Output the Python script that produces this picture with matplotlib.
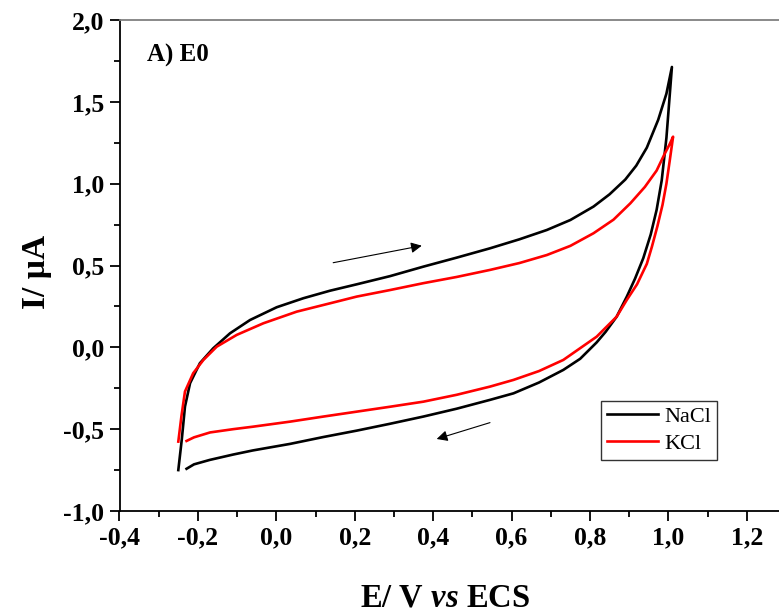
import matplotlib
matplotlib.use("Agg")
import matplotlib.pyplot as plt
from matplotlib.ticker import MultipleLocator, FuncFormatter

plt.rcParams['font.family'] = ['Liberation Serif', 'DejaVu Serif']
plt.rcParams['mathtext.fontset'] = 'custom'
plt.rcParams['mathtext.rm'] = 'Liberation Serif'
plt.rcParams['mathtext.it'] = 'Liberation Serif:italic:bold'
plt.rcParams['mathtext.bf'] = 'Liberation Serif:bold'

# Cyclic voltammograms (potential in V vs ECS, current in µA)
nacl_E = [-0.250, -0.241, -0.233, -0.220, -0.195, -0.161, -0.118, -0.067, 0.001, 0.069,
          0.137, 0.205, 0.290, 0.375, 0.460, 0.545, 0.620, 0.690, 0.750, 0.809,
          0.850, 0.890, 0.918, 0.945, 0.974, 0.995, 1.009,
          0.995, 0.983, 0.970, 0.955, 0.936, 0.915, 0.894, 0.868, 0.840, 0.817,
          0.775, 0.732, 0.670, 0.605, 0.545, 0.460, 0.375, 0.290, 0.205, 0.120,
          0.035, -0.060, -0.110, -0.170, -0.210, -0.229]
nacl_I = [-0.750, -0.560, -0.362, -0.219, -0.097, -0.006, 0.086, 0.167, 0.245, 0.300,
          0.346, 0.385, 0.435, 0.493, 0.548, 0.605, 0.660, 0.717, 0.778, 0.860,
          0.935, 1.025, 1.110, 1.220, 1.390, 1.550, 1.713,
          1.280, 1.020, 0.840, 0.690, 0.545, 0.420, 0.310, 0.187, 0.095, 0.030,
          -0.070, -0.138, -0.215, -0.281, -0.321, -0.375, -0.423, -0.467, -0.509, -0.548,
          -0.590, -0.630, -0.655, -0.688, -0.715, -0.742]

kcl_E = [-0.250, -0.242, -0.233, -0.212, -0.186, -0.152, -0.101, -0.033, 0.052, 0.137,
         0.205, 0.290, 0.375, 0.460, 0.545, 0.620, 0.690, 0.750, 0.809, 0.860,
         0.903, 0.940, 0.970, 0.990, 1.003, 1.012,
         1.004, 0.995, 0.985, 0.972, 0.958, 0.945, 0.920, 0.894, 0.868, 0.817,
         0.732, 0.670, 0.605, 0.545, 0.460, 0.375, 0.290, 0.205, 0.120, 0.035,
         -0.060, -0.110, -0.169, -0.210, -0.229]
kcl_I = [-0.576, -0.420, -0.270, -0.158, -0.077, 0.004, 0.076, 0.147, 0.218, 0.269,
         0.310, 0.350, 0.392, 0.430, 0.473, 0.515, 0.564, 0.620, 0.697, 0.780,
         0.880, 0.980, 1.080, 1.180, 1.240, 1.287,
         1.150, 1.000, 0.870, 0.740, 0.615, 0.510, 0.385, 0.290, 0.187, 0.065,
         -0.077, -0.145, -0.199, -0.240, -0.290, -0.332, -0.363, -0.393, -0.423, -0.454,
         -0.485, -0.500, -0.520, -0.550, -0.572]

series_labels = ['NaCl', 'KCl']
series_colors = ['black', 'red']

fig = plt.figure(figsize=(7.79, 6.15), dpi=100)
W, H = 779, 615
left_px, right_px, top_px, bottom_px = 119.5, 786, 20, 511
ax = fig.add_axes([left_px / W, 1 - bottom_px / H,
                   (right_px - left_px) / W, (bottom_px - top_px) / H])

ax.plot(nacl_E, nacl_I, color=series_colors[0], lw=1.9, label=series_labels[0],
        solid_joinstyle='round')
ax.plot(kcl_E, kcl_I, color=series_colors[1], lw=1.9, label=series_labels[1],
        solid_joinstyle='round')

ax.set_xlim(-0.4, 1.3)
ax.set_ylim(-1.0, 2.0)

ax.xaxis.set_major_locator(MultipleLocator(0.2))
ax.xaxis.set_minor_locator(MultipleLocator(0.1))
ax.yaxis.set_major_locator(MultipleLocator(0.5))
ax.yaxis.set_minor_locator(MultipleLocator(0.25))

comma = FuncFormatter(lambda v, p: f"{v:.1f}".replace('.', ',').replace('-0,0', '0,0'))
ax.xaxis.set_major_formatter(comma)
ax.yaxis.set_major_formatter(comma)

ax.tick_params(which='major', direction='out', length=7, width=1.3, pad=4,
               labelsize=18.5)
ax.tick_params(which='minor', direction='out', length=4, width=1.3)
for lbl in ax.get_xticklabels() + ax.get_yticklabels():
    lbl.set_fontweight('bold')

for s in ('left', 'bottom'):
    ax.spines[s].set_linewidth(1.3)
    ax.spines[s].set_color('black')
ax.spines['top'].set_color('#808080')
ax.spines['top'].set_linewidth(1.3)
ax.spines['right'].set_visible(False)

ax.set_xlabel(r'E/ V $\mathit{vs}$ ECS', fontsize=23.5, fontweight='bold', labelpad=24)
ax.set_ylabel('I/ µA', fontsize=24, fontweight='bold', labelpad=8)
ax.xaxis.label.set_x(0.488)
ax.yaxis.label.set_y(0.487)

ax.text(-0.33, 1.743, 'A) E0', fontsize=18, fontweight='bold', va='baseline')

# sweep direction arrows
arrow = dict(arrowstyle='-|>', lw=0.8, color='black', mutation_scale=16,
             shrinkA=0, shrinkB=0)
ax.annotate('', xy=(0.371, 0.621), xytext=(0.145, 0.517), arrowprops=arrow)
ax.annotate('', xy=(0.409, -0.56), xytext=(0.545, -0.46), arrowprops=arrow)

leg = ax.legend(loc='upper left',
                bbox_to_anchor=((601 - left_px) / (right_px - left_px),
                                (bottom_px - 400.7) / (bottom_px - top_px)),
                fontsize=16, frameon=True, fancybox=False, framealpha=1,
                edgecolor='#333333', handlelength=2.3, handletextpad=0.3,
                borderpad=0.25, labelspacing=0.3, borderaxespad=0)
leg.get_frame().set_linewidth(1.0)

fig.savefig('out.png', dpi=100)
